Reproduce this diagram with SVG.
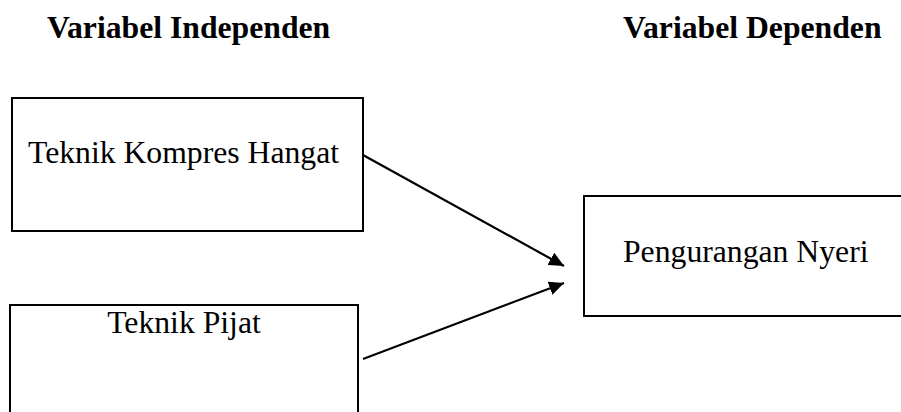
<svg xmlns="http://www.w3.org/2000/svg" width="901" height="412" viewBox="0 0 901 412">
<defs>
<style>
.box{fill:#fff;stroke:#000;stroke-width:2}
.lbl{font-family:"Liberation Serif","Times New Roman",serif;font-size:31.7px;fill:#000}
.ttl{font-family:"Liberation Serif","Times New Roman",serif;font-size:31.7px;font-weight:bold;fill:#000}
.edge{stroke:#000;stroke-width:2.2;fill:none}
</style>
<marker id="ah" markerUnits="userSpaceOnUse" markerWidth="16" markerHeight="14" refX="15" refY="7" orient="auto">
<path d="M0,0 L15,7 L0,14 Z" fill="#000"/>
</marker>
</defs>
<rect width="901" height="412" fill="#fff"/>
<text class="ttl" x="47" y="38">Variabel Independen</text>
<text class="ttl" x="623" y="38">Variabel Dependen</text>
<g id="node-kompres">
<rect class="box" x="12" y="98" width="351" height="133"/>
<text class="lbl" x="28" y="163">Teknik Kompres Hangat</text>
</g>
<g id="node-pijat">
<rect class="box" x="10" y="305" width="348" height="120"/>
<text class="lbl" x="184" y="333" text-anchor="middle">Teknik Pijat</text>
</g>
<g id="node-nyeri">
<rect class="box" x="584" y="196" width="330" height="120"/>
<text class="lbl" x="623" y="262">Pengurangan Nyeri</text>
</g>
<g id="connectors">
<line class="edge" x1="363" y1="155" x2="564" y2="266" marker-end="url(#ah)"/>
<line class="edge" x1="363" y1="359" x2="564" y2="283" marker-end="url(#ah)"/>
</g>
</svg>
